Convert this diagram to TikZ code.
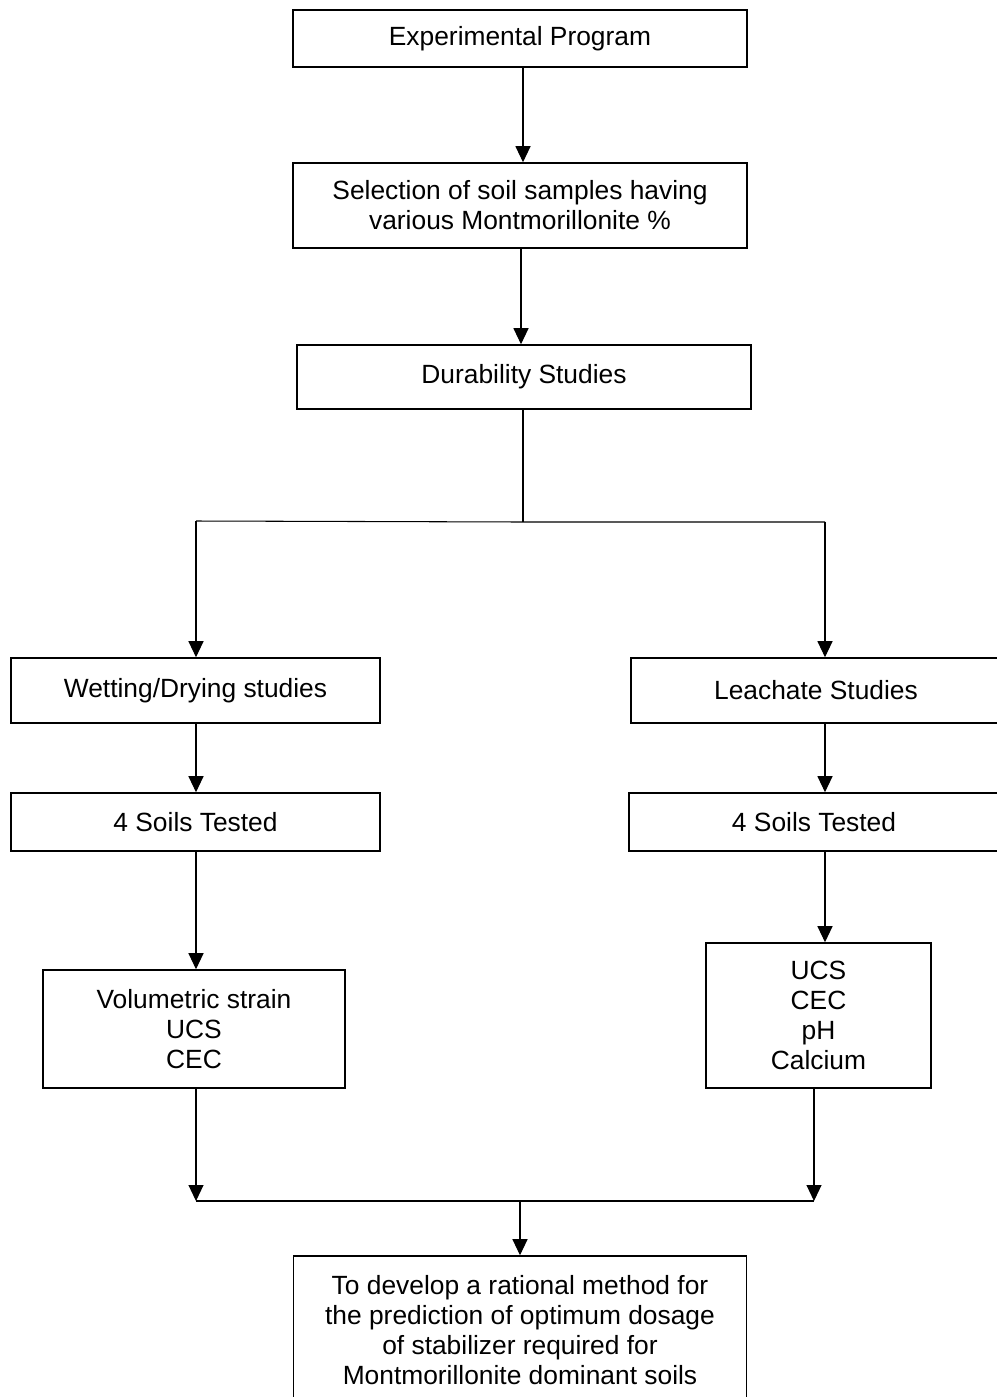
\documentclass[tikz,border=0pt]{standalone}
\usepackage{fontspec}
\setmainfont{Liberation Sans}
\usetikzlibrary{arrows.meta}

\begin{document}
\begin{tikzpicture}[x=0.02cm, y=-0.02cm,
  box/.style={draw, line width=0.9pt, align=center, inner sep=2pt,
    font=\fontsize{15}{17}\selectfont},
  link/.style={line width=0.6pt},
  arrow/.style={link, -{Triangle[length=0.32cm, width=0.3cm]}}]
  \useasboundingbox (0,0) rectangle (997,1397);
  \clip (0,0) rectangle (997,1397);

  % main column
  \node[box, minimum width=9.08cm, minimum height=1.14cm] (exp) at (520,38.5) {Experimental Program};
  \node[box, minimum width=9.08cm, minimum height=1.7cm] (sel) at (520,205.5)
    {Selection of soil samples having\\various Montmorillonite \%};
  \node[box, minimum width=9.08cm, minimum height=1.28cm] (dur) at (524,377) {Durability Studies};

  % two branches
  \node[box, minimum width=7.38cm, minimum height=1.3cm] (wet) at (195.5,690.5) {Wetting/Drying studies};
  \node[box, minimum width=7.4cm, minimum height=1.3cm] (lea) at (816,690.5) {Leachate Studies};
  \node[box, minimum width=7.38cm, minimum height=1.16cm] (soilL) at (195.5,822) {4 Soils Tested};
  \node[box, minimum width=7.4cm, minimum height=1.16cm] (soilR) at (814,822) {4 Soils Tested};
  \node[box, minimum width=6.04cm, minimum height=2.36cm] (vol) at (194,1029)
    {Volumetric strain\\UCS\\CEC};
  \node[box, minimum width=4.5cm, minimum height=2.9cm] (ucs) at (818.5,1015.5)
    {UCS\\CEC\\pH\\Calcium};

  \node[box, minimum width=9.06cm, minimum height=2.96cm] (goal) at (520,1330)
    {To develop a rational method for\\the prediction of optimum dosage\\of stabilizer required for\\Montmorillonite dominant soils};

  \coordinate (splitL) at (196,521);
  \coordinate (split) at (523,522);
  \coordinate (splitR) at (825,522);
  \coordinate (joinL) at (196,1201);
  \coordinate (join) at (520,1201);
  \coordinate (joinR) at (814,1201);

  \draw[arrow] (exp.south -| 523,0) -- (523,0 |- sel.north);
  \draw[arrow] (sel.south -| 521,0) -- (521,0 |- dur.north);
  \draw[link] (dur.south -| split) -- (split);
  \draw[link] (splitL) -- (split) -- (splitR);
  \draw[arrow] (splitL) -- (splitL |- wet.north);
  \draw[arrow] (splitR) -- (splitR |- lea.north);
  \draw[arrow] (wet.south -| splitL) -- (splitL |- soilL.north);
  \draw[arrow] (lea.south -| splitR) -- (splitR |- soilR.north);
  \draw[arrow] (soilL.south -| splitL) -- (splitL |- vol.north);
  \draw[arrow] (soilR.south -| splitR) -- (splitR |- ucs.north);
  \draw[arrow] (vol.south -| joinL) -- (joinL);
  \draw[arrow] (ucs.south -| joinR) -- (joinR);
  \draw[link] (joinL) -- (joinR);
  \draw[arrow] (join) -- (join |- goal.north);
\end{tikzpicture}
\end{document}
